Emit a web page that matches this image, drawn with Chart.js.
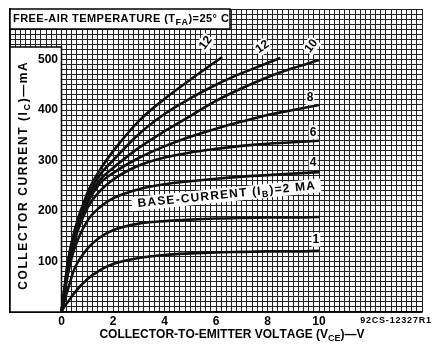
<!DOCTYPE html>
<html>
<head>
<meta charset="utf-8">
<script src="https://cdn.jsdelivr.net/npm/chart.js@4"></script>
<style>
  html, body { margin: 0; padding: 0; background: #fff; }
  #wrap { width: 434px; height: 345px; }
</style>
</head>
<body>
<div id="wrap"><canvas id="chart" width="434" height="345"></canvas></div>
<script>
// collector-to-emitter voltage (V) sampled for the long curves
const vce = [0, 0.1, 0.25, 0.5, 1, 1.5, 2, 3, 4, 5, 6, 7, 8, 9, 10];
// collector current (mA) for each base current
const ib1 = [0, 10, 20, 38, 65, 83, 95, 107, 113, 116, 118, 119, 120, 120, 121];
const ib2 = [0, 20, 45, 85, 125, 148, 162, 175, 180, 183, 185, 186, 187, 187, 188];
const ib4 = [0, 30, 75, 125, 180, 208, 225, 243, 253, 259, 264, 268, 271, 274, 277];
const ib6 = [0, 34, 85, 140, 205, 240, 262, 290, 306, 316, 323, 329, 333, 336, 339];
const ib8 = [0, 36, 90, 148, 215, 255, 275, 305, 328, 347, 363, 377, 390, 400, 410];
const ib10 = [0, 38, 95, 152, 222, 262, 285, 325, 358, 388, 418, 443, 465, 483, 499];
// the two top curves stop at the 500 mA line
const vce12 = [0, 0.1, 0.25, 0.5, 1, 1.5, 2, 3, 4, 5, 6, 7, 8, 8.5];
const ib12 = [0, 39, 98, 155, 228, 272, 300, 352, 392, 423, 450, 473, 493, 503];
const vce14 = [0, 0.1, 0.25, 0.5, 1, 1.5, 2, 3, 4, 5, 6.24];
const ib14 = [0, 40, 100, 160, 235, 282, 318, 378, 422, 460, 505];

const xLabels = [0, 2, 4, 6, 8, 10];
const yLabels = [100, 200, 300, 400, 500];

const FONT = '"Liberation Sans", Arial, sans-serif';

function pts(xs, ys) {
    return xs.map((x, i) => ({ x, y: ys[i] }));
}

function curve(xs, ys) {
    return {
        data: pts(xs, ys),
        borderColor: "#111",
        borderWidth: 2.6,
        pointRadius: 0,
        cubicInterpolationMode: "monotone",
        fill: false
    };
}

// text with subscripts: parts starting with "_" are lowered and smaller,
// drawn char by char so extra letter spacing can be added
function drawRich(ctx, parts, x, y, size, rot, align, spacing) {
    const sp = spacing || 0;
    const main = `bold ${size}px ${FONT}`;
    const sub = `bold ${Math.round(size * 0.78)}px ${FONT}`;
    const chars = [];
    parts.forEach(p => {
        const isSub = p[0] === "_";
        for (const c of p.replace(/^_/, "")) chars.push({ c, isSub });
    });
    ctx.save();
    ctx.translate(x, y);
    ctx.rotate(rot || 0);
    let total = 0;
    chars.forEach(ch => {
        ctx.font = ch.isSub ? sub : main;
        ch.w = ctx.measureText(ch.c).width;
        total += ch.w + sp;
    });
    total -= sp;
    let cx = align === "left" ? 0 : align === "right" ? -total : -total / 2;
    ctx.textBaseline = "middle";
    ctx.fillStyle = "#000";
    chars.forEach(ch => {
        ctx.font = ch.isSub ? sub : main;
        ctx.fillText(ch.c, cx, ch.isSub ? size * 0.3 : 0);
        cx += ch.w + sp;
    });
    ctx.restore();
    return total;
}

const panels = {
    id: "panels",
    beforeDatasetsDraw(chart) {
        const { ctx, chartArea, scales } = chart;
        const x0 = scales.x.getPixelForValue(0);
        const yTop = 47;
        ctx.save();
        ctx.fillStyle = "#fff";
        ctx.strokeStyle = "#000";
        ctx.lineWidth = 1.5;
        // left label panel
        ctx.fillRect(chartArea.left, yTop, x0 - chartArea.left, chartArea.bottom - yTop);
        ctx.strokeRect(chartArea.left, yTop, x0 - chartArea.left, chartArea.bottom - yTop);
        // title box
        ctx.fillRect(chartArea.left, chartArea.top, 220, 20);
        ctx.strokeRect(chartArea.left, chartArea.top, 220, 20);
        ctx.restore();
    },
    afterDraw(chart) {
        const { ctx, chartArea, scales } = chart;
        const sx = scales.x, sy = scales.y;
        drawRich(ctx, ["FREE-AIR TEMPERATURE (T", "_FA", ")=25° C"], chartArea.left + 3, chartArea.top + 10, 11, 0, "left", 0.45);
        drawRich(ctx, ["COLLECTOR CURRENT (I", "_C", ")—mA"], 24, 176, 12, -Math.PI / 2, "center", 1.6);
        drawRich(ctx, ["COLLECTOR-TO-EMITTER VOLTAGE (V", "_CE", ")—V"], 232, 335, 12, 0, "center", 0);
        drawRich(ctx, ["92CS-12327R1"], 431, 321, 9, 0, "right", 0.8);

        // curve labels, anchored in data units
        const labels = [
            { t: "1", v: 9.88, i: 143, r: 0 },
            { t: "4", v: 9.77, i: 295, r: 0 },
            { t: "6", v: 9.77, i: 356, r: 0 },
            { t: "8", v: 9.65, i: 424, r: 0 },
            { t: "10", v: 9.7, i: 527, r: -0.9 },
            { t: "12", v: 7.8, i: 525, r: -0.6 },
            { t: "12", v: 5.6, i: 533, r: -0.95 }
        ];
        labels.forEach(l => {
            const x = sx.getPixelForValue(l.v), y = sy.getPixelForValue(l.i);
            ctx.save();
            ctx.fillStyle = "#fff";
            ctx.translate(x, y);
            ctx.rotate(l.r);
            ctx.font = `bold 12px ${FONT}`;
            const w = ctx.measureText(l.t).width;
            ctx.fillRect(-w / 2 - 1, -7, w + 2, 14);
            ctx.fillStyle = "#000";
            ctx.textAlign = "center";
            ctx.textBaseline = "middle";
            ctx.fillText(l.t, 0, 0);
            ctx.restore();
        });
        // base-current label along the 2 mA curve
        const bx = sx.getPixelForValue(6.4), by = sy.getPixelForValue(232);
        ctx.save();
        ctx.translate(bx, by);
        ctx.rotate(-0.1);
        ctx.fillStyle = "#fff";
        ctx.fillRect(-95, -7, 190, 14);
        ctx.restore();
        drawRich(ctx, ["BASE-CURRENT (I", "_B", ")=2 MA"], bx, by, 12, -0.1, "center", 1.2);
    }
};

const ctx = document.getElementById("chart").getContext("2d");
new Chart(ctx, {
    type: "line",
    data: {
        datasets: [
            curve(vce, ib1),
            curve(vce, ib2),
            curve(vce, ib4),
            curve(vce, ib6),
            curve(vce, ib8),
            curve(vce, ib10),
            curve(vce12, ib12),
            curve(vce14, ib14)
        ]
    },
    options: {
        responsive: false,
        animation: false,
        events: [],
        layout: { padding: { left: 10, right: 12, top: 9, bottom: 0 } },
        plugins: { legend: { display: false }, tooltip: { enabled: false } },
        scales: {
            x: {
                type: "linear",
                min: -2,
                max: 14,
                afterFit(scale) {
                    scale.height = 33;
                    scale.paddingLeft = 0;
                    scale.paddingRight = 0;
                },
                grid: {
                    color: "#222",
                    lineWidth: 1,
                    drawTicks: false
                },
                border: { color: "#000", width: 1.5 },
                ticks: {
                    stepSize: 0.2,
                    autoSkip: false,
                    maxRotation: 0,
                    padding: 2,
                    color: "#000",
                    font: { family: FONT, size: 12, weight: "bold" },
                    callback(v) {
                        const r = Math.round(v * 10) / 10;
                        return xLabels.includes(r) ? String(r) : "";
                    }
                }
            },
            y: {
                type: "linear",
                min: 0,
                max: 600,
                afterFit(scale) {
                    scale.width = 0;
                    scale.paddingTop = 0;
                    scale.paddingBottom = 0;
                },
                grid: {
                    color: "#222",
                    lineWidth: 1,
                    drawTicks: false
                },
                border: { color: "#000", width: 1.5 },
                ticks: {
                    stepSize: 10,
                    autoSkip: false,
                    mirror: true,
                    crossAlign: "far",
                    padding: 28,
                    z: 1,
                    color: "#000",
                    font: { family: FONT, size: 12, weight: "bold" },
                    callback(v) {
                        return yLabels.includes(v) ? String(v) : "";
                    }
                }
            }
        }
    },
    plugins: [panels]
});
</script>
</body>
</html>
